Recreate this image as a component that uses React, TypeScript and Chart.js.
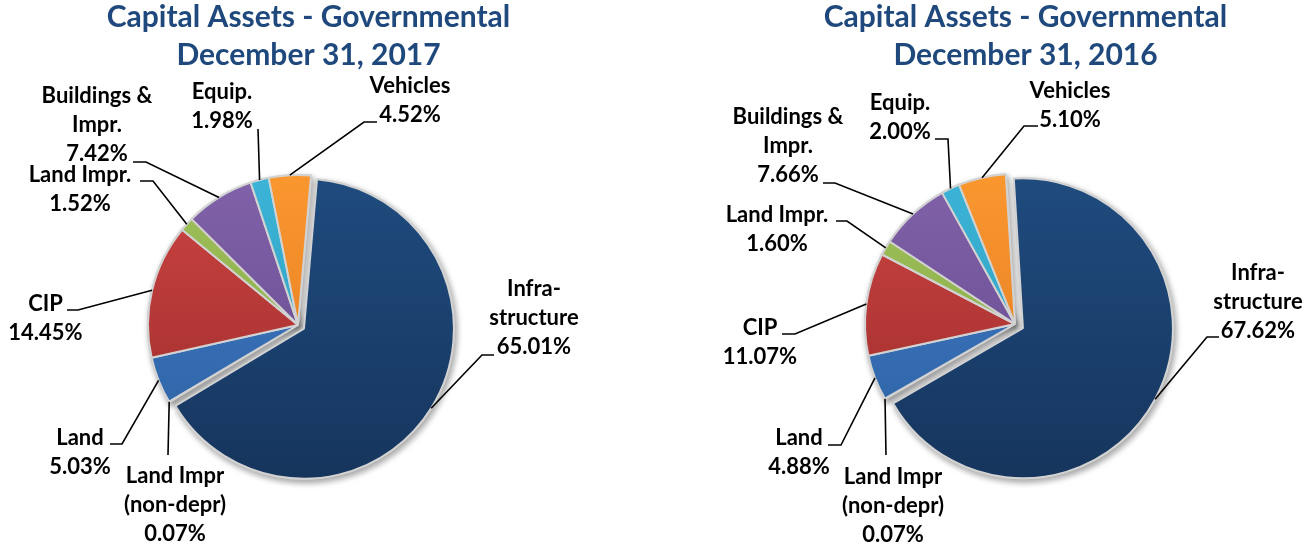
import React, { useEffect, useRef } from 'react';
import { Chart, registerables } from 'chart.js';

Chart.register(...registerables);

// ---------------- data ----------------
const categories = [
  'Infrastructure',
  'Land Impr (non-depr)',
  'Land',
  'CIP',
  'Land Impr.',
  'Buildings & Impr.',
  'Equip.',
  'Vehicles',
];
const labelNames = [
  ['Infra-', 'structure'],
  ['Land Impr', '(non-depr)'],
  ['Land'],
  ['CIP'],
  ['Land Impr.'],
  ['Buildings &', 'Impr.'],
  ['Equip.'],
  ['Vehicles'],
];
const values2017 = [65.01, 0.07, 5.03, 14.45, 1.52, 7.42, 1.98, 4.52];
const values2016 = [67.62, 0.07, 4.88, 11.07, 1.6, 7.66, 2.0, 5.1];
const title2017 = ['Capital Assets - Governmental', 'December 31, 2017'];
const title2016 = ['Capital Assets - Governmental', 'December 31, 2016'];

// ---------------- styles ----------------
const topColors = ['#1F4B7E', '#C0504D', '#427DC6', '#CC4543', '#9EC05A', '#8162AA', '#3CB4D7', '#FB972F'];
const bottomColors = ['#16355D', '#9B2D2A', '#2C60A2', '#9A2A29', '#86A743', '#61478A', '#2A99B8', '#DD7820'];
const TITLE_COLOR = '#1F497D';
const RADIUS = 150;

// label placements (relative to pie centre): text block centre, elbow, tail end
const layout2017 = [
  { t: [236, -7], e: [184, 30], h: [196, 30] },
  { t: [-123, 180], e: [-130, 130], h: [-130, 130] },
  { t: [-218, 127], e: [-176, 119], h: [-188, 119] },
  { t: [-252.5, -6.5], e: [-220, -15], h: [-231, -15] },
  { t: [-218, -136], e: [-145, -144], h: [-158, -144] },
  { t: [-201, -200], e: [-152, -163], h: [-165, -163] },
  { t: [-76, -218.5], e: [-40, -196], h: [-40, -196] },
  { t: [112, -224.5], e: [66, -203], h: [79, -203] },
];
const layout2016 = [
  { t: [243, -22.5], e: [192, 13], h: [204, 13] },
  { t: [-122, 182], e: [-129, 131], h: [-129, 131] },
  { t: [-216, 128.5], e: [-174, 121], h: [-187, 121] },
  { t: [-255, 18], e: [-220, 10], h: [-233, 10] },
  { t: [-238, -94.5], e: [-168, -103], h: [-179, -103] },
  { t: [-227, -178], e: [-180, -141], h: [-192, -141] },
  { t: [-115, -206.5], e: [-67, -185], h: [-80, -185] },
  { t: [55, -219], e: [9, -198], h: [23, -198] },
];

type PieCfg = {
  values: number[];
  title: string[];
  layout: { t: number[]; e: number[]; h: number[] }[];
  explode: number[];
  rotation: number;
  padding: { left: number; right: number; top: number; bottom: number };
};

function makePlugin(cfg: PieCfg) {
  const shift = (arc: any, i: number) => {
    const mid = (arc.startAngle + arc.endAngle) / 2;
    const d = cfg.explode[i] || 0;
    return [Math.cos(mid) * d, Math.sin(mid) * d];
  };
  return {
    id: 'excelPie',
    beforeDatasetsDraw(chart: any) {
      const meta = chart.getDatasetMeta(0);
      const ctx = chart.ctx;
      ctx.save();
      ctx.shadowColor = 'rgba(0,0,0,0.35)';
      ctx.shadowBlur = 6;
      ctx.shadowOffsetX = 2;
      ctx.shadowOffsetY = 3;
      meta.data.forEach((arc: any, i: number) => {
        const [dx, dy] = shift(arc, i);
        ctx.save();
        ctx.translate(dx, dy);
        arc.draw(ctx);
        ctx.restore();
      });
      ctx.restore();
      meta.data.forEach((arc: any, i: number) => {
        const [dx, dy] = shift(arc, i);
        ctx.save();
        ctx.translate(dx, dy);
        arc.draw(ctx);
        ctx.restore();
      });
      return false;
    },
    afterDraw(chart: any) {
      const ctx = chart.ctx;
      const area = chart.chartArea;
      const cx = (area.left + area.right) / 2;
      const cy = (area.top + area.bottom) / 2;
      const meta = chart.getDatasetMeta(0);
      ctx.save();
      // title
      ctx.font = 'bold 30px Lato';
      ctx.fillStyle = TITLE_COLOR;
      ctx.textAlign = 'center';
      ctx.textBaseline = 'middle';
      cfg.title.forEach((s, k) => ctx.fillText(s, cx + 10.5, 17 + k * 38));
      // labels
      ctx.font = 'bold 22px Lato';
      ctx.fillStyle = '#000';
      ctx.strokeStyle = '#000';
      ctx.lineWidth = 1.6;
      const lineH = 29;
      meta.data.forEach((arc: any, i: number) => {
        const L = cfg.layout[i];
        const mid = (arc.startAngle + arc.endAngle) / 2;
        const d = cfg.explode[i] || 0;
        const sx = arc.x + Math.cos(mid) * (arc.outerRadius + d);
        const sy = arc.y + Math.sin(mid) * (arc.outerRadius + d);
        ctx.beginPath();
        ctx.moveTo(sx, sy);
        ctx.lineTo(cx + L.e[0], cy + L.e[1]);
        ctx.lineTo(cx + L.h[0], cy + L.h[1]);
        ctx.stroke();
        const lines = [...labelNames[i], cfg.values[i].toFixed(2) + '%'];
        lines.forEach((s, k) =>
          ctx.fillText(s, cx + L.t[0], cy + L.t[1] + (k - (lines.length - 1) / 2) * lineH)
        );
      });
      ctx.restore();
    },
  };
}

function PieCanvas({ cfg, left }: { cfg: PieCfg; left: number }) {
  const ref = useRef<HTMLCanvasElement | null>(null);
  useEffect(() => {
    if (!ref.current) return;
    const chart = new Chart(ref.current, {
      type: 'pie',
      data: {
        labels: categories,
        datasets: [
          {
            data: cfg.values,
            backgroundColor: (c: any) => {
              const ch = c.chart;
              const a = ch.chartArea;
              const i = c.dataIndex ?? 0;
              if (!a) return topColors[i];
              const cy = (a.top + a.bottom) / 2;
              const g = ch.ctx.createLinearGradient(0, cy - RADIUS, 0, cy + RADIUS);
              g.addColorStop(0, topColors[i]);
              g.addColorStop(1, bottomColors[i]);
              return g;
            },
            borderColor: '#D2D2D2',
            borderWidth: 2,
          },
        ],
      },
      options: {
        responsive: false,
        animation: false,
        events: [],
        rotation: cfg.rotation,
        radius: RADIUS,
        layout: { padding: cfg.padding },
        plugins: {
          legend: { display: false },
          tooltip: { enabled: false },
          title: { display: false },
        },
      } as any,
      plugins: [makePlugin(cfg)],
    });
    return () => chart.destroy();
  }, [cfg]);
  return (
    <canvas
      ref={ref}
      width={658}
      height={546}
      style={{ position: 'absolute', left, top: 0, width: 658, height: 546 }}
    />
  );
}

const cfg2017: PieCfg = {
  values: values2017,
  title: title2017,
  layout: layout2017,
  explode: [7, 0, 0, 0, 0, 0, 0, 0],
  rotation: 5,
  padding: { left: 0, right: 62, top: 104, bottom: 0 },
};
const cfg2016: PieCfg = {
  values: values2016,
  title: title2016,
  layout: layout2016,
  explode: [9, 0, 0, 0, 0, 0, 0, 0],
  rotation: -3.5,
  padding: { left: 56, right: 0, top: 102, bottom: 0 },
};

export default function App() {
  return (
    <div
      style={{
        position: 'fixed',
        left: 0,
        top: 0,
        width: 1316,
        height: 546,
        background: '#fff',
        overflow: 'hidden',
      }}
    >
      <PieCanvas cfg={cfg2017} left={0} />
      <PieCanvas cfg={cfg2016} left={658} />
    </div>
  );
}
